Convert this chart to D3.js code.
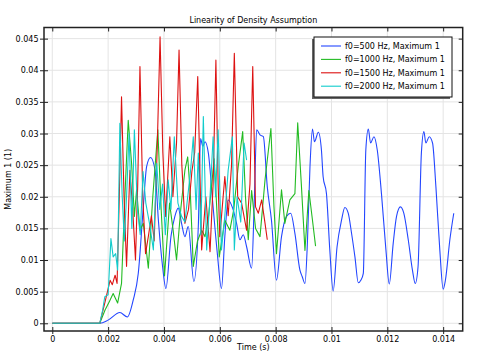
<!DOCTYPE html>
<html>
<head>
<meta charset="utf-8">
<script src="https://cdn.jsdelivr.net/npm/d3@7"></script>
<style>
  body { margin: 0; background: #fff; }
  text { font-family: "DejaVu Sans", sans-serif; fill: #000; }
</style>
</head>
<body>
<svg id="chart"></svg>
<script>
/* Data: [time (ms), value (x 1e-3)] */
const f500 = [[0,0],[1.70,0],[2.00,0.5],[2.42,1.7],[2.69,1.0],[2.90,3.7],[3.08,7.9],[3.26,18.4],[3.38,24.8],[3.52,26.2],[3.68,24.2],[3.80,16.3],[3.95,9.0],[4.07,5.5],[4.25,13.7],[4.39,16.9],[4.51,18.2],[4.63,15.8],[4.75,13.7],[4.87,15.3],[5.07,6.6],[5.23,15.3],[5.31,29.2],[5.39,28.0],[5.47,28.7],[5.59,26.9],[5.76,18.4],[5.91,11.1],[6.06,5.5],[6.18,13.7],[6.30,19.5],[6.46,18.2],[6.60,15.8],[6.72,13.2],[6.84,14.0],[6.96,12.1],[7.14,8.7],[7.24,20.0],[7.32,30.6],[7.44,29.8],[7.56,29.5],[7.70,21.6],[7.85,16.3],[8.03,6.8],[8.21,13.7],[8.39,16.9],[8.54,17.4],[8.69,14.2],[8.87,8.4],[8.95,7.4],[9.05,6.3],[9.14,13.0],[9.23,24.8],[9.32,30.7],[9.39,28.7],[9.53,30.2],[9.64,27.4],[9.70,23.2],[9.82,20.5],[9.94,11.6],[10.06,5.1],[10.20,12.1],[10.36,16.3],[10.48,18.3],[10.60,17.4],[10.72,14.2],[10.84,10.5],[10.96,6.4],[11.05,6.8],[11.14,7.9],[11.23,27.4],[11.32,30.7],[11.40,28.5],[11.52,29.5],[11.64,27.4],[11.79,20.5],[11.95,11.6],[12.07,6.2],[12.21,12.6],[12.33,16.9],[12.47,18.4],[12.59,17.4],[12.75,13.2],[12.90,8.4],[13.00,6.3],[13.10,8.9],[13.22,26.9],[13.31,30.3],[13.38,28.5],[13.50,29.5],[13.62,28.5],[13.74,21.6],[13.88,11.6],[14.00,5.4],[14.08,6.8],[14.24,13.2],[14.38,17.4]];

const f1000 = [[0,0],[1.70,0],[1.89,2.1],[2.05,3.5],[2.18,4.7],[2.34,3.2],[2.48,6.3],[2.60,20.0],[2.72,32.1],[2.84,25.3],[2.94,16.9],[3.02,21.1],[3.14,14.7],[3.26,15.8],[3.44,8.7],[3.60,20.0],[3.78,30.6],[3.90,18.0],[4.02,7.5],[4.20,19.0],[4.32,15.0],[4.45,10.0],[4.60,18.0],[4.75,24.2],[4.85,26.3],[4.95,20.0],[5.05,9.0],[5.20,13.0],[5.35,14.7],[5.47,13.7],[5.60,17.0],[5.80,26.0],[5.98,10.5],[6.18,16.3],[6.36,14.7],[6.50,18.0],[6.66,24.8],[6.82,30.3],[6.92,20.0],[7.02,13.2],[7.14,21.0],[7.28,15.0],[7.44,13.7],[7.62,22.7],[7.83,30.8],[7.94,18.4],[8.03,11.0],[8.21,21.1],[8.33,15.8],[8.51,19.5],[8.69,20.5],[8.79,31.7],[8.92,22.0],[9.05,11.5],[9.19,21.0],[9.30,17.0],[9.43,12.2]];

const f1500 = [[0,0],[1.70,0],[1.89,3.4],[2.07,6.8],[2.15,6.1],[2.25,7.6],[2.32,6.3],[2.40,20.0],[2.48,35.8],[2.57,20.0],[2.66,9.0],[2.78,24.2],[2.88,18.0],[2.98,10.0],[3.06,22.0],[3.14,40.6],[3.24,20.0],[3.34,11.0],[3.45,14.0],[3.55,17.0],[3.65,13.0],[3.76,28.0],[3.86,45.3],[3.96,27.0],[4.06,16.9],[4.21,29.5],[4.32,20.0],[4.45,28.5],[4.54,43.2],[4.64,25.0],[4.75,15.8],[4.88,18.0],[5.00,24.0],[5.10,27.0],[5.21,39.0],[5.35,11.6],[5.50,20.0],[5.65,11.3],[5.76,22.0],[5.86,41.6],[5.94,22.0],[6.00,13.7],[6.18,23.2],[6.30,17.0],[6.42,25.0],[6.52,42.7],[6.64,20.0],[6.78,19.0],[6.96,14.7],[7.08,22.0],[7.18,40.6],[7.28,18.4],[7.38,17.4],[7.50,19.5],[7.62,15.8],[7.70,13.2]];

const f2000 = [[0,0],[1.70,0],[1.80,2.0],[1.88,4.2],[2.00,4.5],[2.10,13.4],[2.18,10.5],[2.27,11.0],[2.34,8.4],[2.42,31.6],[2.50,20.5],[2.58,13.0],[2.66,20.0],[2.75,30.0],[2.85,15.0],[2.94,30.6],[3.05,18.0],[3.15,14.0],[3.25,24.0],[3.35,19.0],[3.50,15.3],[3.62,11.6],[3.74,25.3],[3.85,18.0],[3.95,22.0],[4.05,14.0],[4.15,22.7],[4.25,18.0],[4.37,29.5],[4.50,19.0],[4.63,16.9],[4.75,16.0],[4.85,20.0],[4.95,24.0],[5.05,29.5],[5.15,18.0],[5.23,26.9],[5.32,14.0],[5.41,32.7],[5.53,11.6],[5.65,20.0],[5.76,29.5],[5.85,20.0],[5.94,30.6],[6.06,11.6],[6.18,17.0],[6.30,24.2],[6.45,29.5],[6.52,11.6],[6.62,20.0],[6.75,16.0],[6.87,28.5],[6.96,25.8]];

const seriesNames = ["f0=500 Hz, Maximum 1", "f0=1000 Hz, Maximum 1", "f0=1500 Hz, Maximum 1", "f0=2000 Hz, Maximum 1"];
const seriesColors = ["#2346ff", "#22bb22", "#dd1111", "#11cccc"];
const seriesData = [f500, f1000, f1500, f2000];

const xTicks = [0, 0.002, 0.004, 0.006, 0.008, 0.01, 0.012, 0.014];
const yTicks = [0, 0.005, 0.01, 0.015, 0.02, 0.025, 0.03, 0.035, 0.04, 0.045];

/* Layout */
const width = 477, height = 354;
const plot = { left: 44, right: 462.7, top: 27.5, bottom: 331 };

const svg = d3.select("#chart").attr("width", width).attr("height", height);

/* Scales */
const x = d3.scaleLinear().domain([-0.000297, 0.0147]).range([plot.left, plot.right]);
const y = d3.scaleLinear().domain([-0.00122, 0.04676]).range([plot.bottom, plot.top]);
const fmt = d => String(+d.toFixed(4));

/* Grid */
const grid = svg.append("g").attr("stroke", "#e4e4e4").attr("stroke-width", 1);
grid.selectAll(".gx").data(xTicks).join("line")
    .attr("x1", d => x(d)).attr("x2", d => x(d))
    .attr("y1", plot.top).attr("y2", plot.bottom);
grid.selectAll(".gy").data(yTicks).join("line")
    .attr("x1", plot.left).attr("x2", plot.right)
    .attr("y1", d => y(d)).attr("y2", d => y(d));

/* Lines */
svg.append("clipPath").attr("id", "clip").append("rect")
    .attr("x", plot.left).attr("y", plot.top)
    .attr("width", plot.right - plot.left).attr("height", plot.bottom - plot.top);

const line = d3.line()
    .x(d => x(d[0] * 1e-3))
    .y(d => y(d[1] * 1e-3));

/* the 500 Hz trace is smoother in the original, the others are jagged */
svg.append("g").attr("clip-path", "url(#clip)")
  .selectAll("path").data(seriesData).join("path")
    .attr("d", (d, i) => line.curve(i === 0 ? d3.curveMonotoneX : d3.curveLinear)(d))
    .attr("fill", "none")
    .attr("stroke", (d, i) => seriesColors[i])
    .attr("stroke-width", 1.1)
    .attr("stroke-linejoin", "round");

/* Axes */
function styleAxis(g) {
  g.select(".domain").remove();
  g.selectAll(".tick line").attr("stroke", "#222");
  g.selectAll("text").style("font-size", "8px").style("font-family", "DejaVu Sans");
}
svg.append("g").attr("transform", `translate(${plot.left},0)`)
    .call(d3.axisLeft(y).tickValues(yTicks).tickFormat(fmt).tickSize(4).tickPadding(1.5))
    .call(styleAxis);
svg.append("g").attr("transform", `translate(${plot.left},0)`)
    .call(d3.axisRight(y).tickValues(yTicks).tickFormat("").tickSize(4))
    .call(styleAxis);
svg.append("g").attr("transform", `translate(${plot.right},0)`)
    .call(d3.axisLeft(y).tickValues(yTicks).tickFormat("").tickSize(4))
    .call(styleAxis);
svg.append("g").attr("transform", `translate(0,${plot.bottom})`)
    .call(d3.axisBottom(x).tickValues(xTicks).tickFormat(fmt).tickSize(3).tickPadding(2))
    .call(styleAxis);
svg.append("g").attr("transform", `translate(0,${plot.bottom})`)
    .call(d3.axisTop(x).tickValues(xTicks).tickFormat("").tickSize(4))
    .call(styleAxis);
svg.append("g").attr("transform", `translate(0,${plot.top})`)
    .call(d3.axisBottom(x).tickValues(xTicks).tickFormat("").tickSize(4))
    .call(styleAxis);

/* Frame */
svg.append("rect")
    .attr("x", plot.left).attr("y", plot.top)
    .attr("width", plot.right - plot.left).attr("height", plot.bottom - plot.top)
    .attr("fill", "none").attr("stroke", "#222").attr("stroke-width", 1.5);

/* Titles */
svg.append("text").attr("x", (plot.left + plot.right) / 2).attr("y", 23)
    .attr("text-anchor", "middle").style("font-size", "8px")
    .text("Linearity of Density Assumption");
svg.append("text").attr("x", (plot.left + plot.right) / 2).attr("y", 350)
    .attr("text-anchor", "middle").style("font-size", "8px")
    .text("Time (s)");
svg.append("text")
    .attr("transform", `translate(11,${(plot.top + plot.bottom) / 2}) rotate(-90)`)
    .attr("text-anchor", "middle").style("font-size", "8px")
    .text("Maximum 1 (1)");

/* Legend */
const lg = { x: 314, y: 37, w: 138, h: 60 };
const legend = svg.append("g");
legend.append("rect").attr("x", lg.x - 2).attr("y", lg.y + 2).attr("width", lg.w).attr("height", lg.h)
    .attr("fill", "#666");
legend.append("rect").attr("x", lg.x).attr("y", lg.y).attr("width", lg.w).attr("height", lg.h)
    .attr("fill", "#fff").attr("stroke", "#111").attr("stroke-width", 1);
const items = legend.selectAll(".item").data(seriesNames).join("g")
    .attr("transform", (d, i) => `translate(0,${46 + i * 13.4})`);
items.append("line").attr("x1", 321).attr("x2", 341)
    .attr("stroke", (d, i) => seriesColors[i]).attr("stroke-width", 1.1);
items.append("text").attr("x", 345).attr("y", 3).style("font-size", "8px").text(d => d);
</script>
</body>
</html>
